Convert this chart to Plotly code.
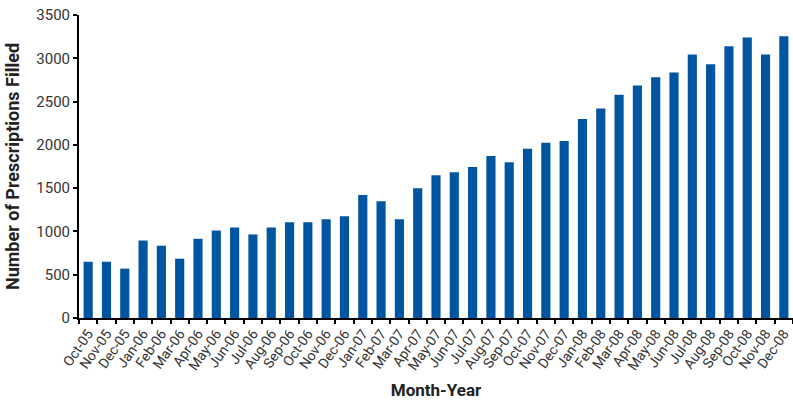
import plotly.graph_objects as go

# monthly prescriptions filled, Oct 2005 - Dec 2008
months = [
    "Oct-05", "Nov-05", "Dec-05",
    "Jan-06", "Feb-06", "Mar-06", "Apr-06", "May-06", "Jun-06",
    "Jul-06", "Aug-06", "Sep-06", "Oct-06", "Nov-06", "Dec-06",
    "Jan-07", "Feb-07", "Mar-07", "Apr-07", "May-07", "Jun-07",
    "Jul-07", "Aug-07", "Sep-07", "Oct-07", "Nov-07", "Dec-07",
    "Jan-08", "Feb-08", "Mar-08", "Apr-08", "May-08", "Jun-08",
    "Jul-08", "Aug-08", "Sep-08", "Oct-08", "Nov-08", "Dec-08",
]
prescriptions = [
    650, 650, 570,
    895, 835, 685, 915, 1010, 1045,
    965, 1045, 1105, 1105, 1140, 1175,
    1420, 1350, 1140, 1500, 1650, 1685,
    1745, 1870, 1800, 1955, 2025, 2045,
    2300, 2420, 2580, 2685, 2780, 2835,
    3045, 2930, 3140, 3240, 3045, 3255,
]
y_ticks = [0, 500, 1000, 1500, 2000, 2500, 3000, 3500]

FONT = "Roboto, Liberation Sans, Arial, sans-serif"
TEXT = "#333333"

fig = go.Figure(
    go.Bar(
        x=months,
        y=prescriptions,
        marker_color="#0055A0",
        marker_line_width=0,
    )
)

fig.update_layout(
    width=793,
    height=400,
    margin=dict(l=79, r=0, t=15, b=82),
    plot_bgcolor="white",
    paper_bgcolor="white",
    bargap=0.5,
    showlegend=False,
    font=dict(family=FONT, color=TEXT),
)

fig.update_xaxes(
    type="category",
    automargin=False,
    tickangle=-55,
    tickfont=dict(size=14, color=TEXT),
    showline=True,
    linecolor="black",
    linewidth=2,
    ticks="outside",
    ticklen=4,
    tickwidth=1.5,
    tickcolor="black",
    tickson="boundaries",
    showgrid=False,
    title=dict(
        text="<b>Month-Year</b>",
        font=dict(size=17, color="#222222"),
        standoff=12,
    ),
)

fig.update_yaxes(
    range=[0, 3500],
    automargin=False,
    tickvals=y_ticks,
    tickfont=dict(size=15, color=TEXT),
    showline=True,
    linecolor="black",
    linewidth=2,
    ticks="outside",
    ticklen=4,
    tickwidth=1.5,
    tickcolor="black",
    showgrid=False,
    zeroline=False,
    title=dict(
        text="<b>Number of Prescriptions Filled</b>",
        font=dict(size=18, color="#222222"),
        standoff=12,
    ),
)

# drop the browser's default body margin so the figure sits at the page corner
fig.write_html(
    "out.html",
    config={"displayModeBar": False},
    post_script="document.body.style.margin = '0';",
)
